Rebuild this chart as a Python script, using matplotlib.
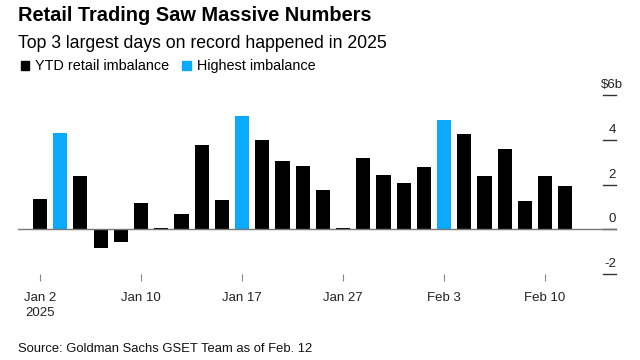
import numpy as np
import matplotlib
matplotlib.use("Agg")
import matplotlib.pyplot as plt
from matplotlib.transforms import blended_transform_factory

plt.rcParams['font.family'] = ['Liberation Sans', 'DejaVu Sans']

dates = ["Jan 2", "Jan 3", "Jan 6", "Jan 7", "Jan 8", "Jan 10", "Jan 13", "Jan 14",
         "Jan 15", "Jan 16", "Jan 17", "Jan 21", "Jan 22", "Jan 23", "Jan 24",
         "Jan 27", "Jan 28", "Jan 29", "Jan 30", "Jan 31", "Feb 3", "Feb 4",
         "Feb 5", "Feb 6", "Feb 7", "Feb 10", "Feb 11", "Feb 12"]
values = [1.35, 4.32, 2.38, -0.83, -0.55, 1.17, 0.05, 0.67,
          3.75, 1.31, 5.04, 3.97, 3.05, 2.84, 1.74,
          0.07, 3.17, 2.41, 2.07, 2.80, 4.90, 4.26,
          2.37, 3.59, 1.25, 2.38, 1.95, np.nan]
highest = ["Jan 3", "Jan 17", "Feb 3"]
tick_dates = ["Jan 2", "Jan 10", "Jan 17", "Jan 27", "Feb 3", "Feb 10"]
tick_labels = ["Jan 2\n2025", "Jan 10", "Jan 17", "Jan 27", "Feb 3", "Feb 10"]
y_ticks = [-2, 0, 2, 4, 6]

BLACK = "#000000"
BLUE = "#0AABFF"

fig = plt.figure(figsize=(6.4, 3.6), dpi=100)
W, H = 640, 360
ax = fig.add_axes([18 / W, 1 - 274 / H, (617 - 18) / W, (274 - 95) / H])

x = np.arange(len(dates))
colors = [BLUE if d in highest else BLACK for d in dates]
ax.bar(x, values, width=0.7, color=colors, zorder=2)
ax.axhline(0, color="#777777", lw=1.0, zorder=3)

ax.set_xlim(-1.09, 28.56)
ax.set_ylim(-2, 6)
for s in ax.spines.values():
    s.set_visible(False)
ax.set_yticks([])
ax.set_xticks([dates.index(d) for d in tick_dates])
ax.set_xticklabels(tick_labels, fontsize=9.5, color="#222222", linespacing=1.35)
ax.tick_params(axis="x", direction="out", length=5, width=0.8, color="#888888", pad=8)

tr = blended_transform_factory(ax.transAxes, ax.transData)
xr = (616 - 18) / (617 - 18)
xl = (603 - 18) / (617 - 18)
for v in y_ticks:
    ax.plot([xl, xr], [v, v], transform=tr, color="#333333", lw=1.0, clip_on=False)
    if v == 6:
        ax.annotate("\\$6b", xy=(xr, v), xycoords=tr, xytext=(-10.8, 5), textcoords="offset points",
                    ha="left", va="baseline", fontsize=9.5, color="#222222")
    else:
        ax.annotate(str(v), xy=(xr, v), xycoords=tr, xytext=(0, 5), textcoords="offset points",
                    ha="right", va="baseline", fontsize=9.5, color="#222222")

fig.text(18 / W, 1 - 21 / H, "Retail Trading Saw Massive Numbers", fontsize=14.4,
         fontweight="bold", color="#000000", va="baseline")
fig.text(18 / W, 1 - 48 / H, "Top 3 largest days on record happened in 2025", fontsize=12.7,
         color="#000000", va="baseline")

# legend
fig.patches.append(plt.Rectangle((21 / W, 1 - 70 / H), 8 / W, 9 / H, transform=fig.transFigure,
                                 color=BLACK, figure=fig))
fig.text(35 / W, 1 - 70 / H, "YTD retail imbalance", fontsize=10.4, va="baseline")
fig.patches.append(plt.Rectangle((182 / W, 1 - 70 / H), 9 / W, 9 / H, transform=fig.transFigure,
                                 color=BLUE, figure=fig))
fig.text(197 / W, 1 - 70 / H, "Highest imbalance", fontsize=10.4, va="baseline")

fig.text(18 / W, 1 - 352 / H, "Source: Goldman Sachs GSET Team as of Feb. 12", fontsize=9.35,
         color="#111111", va="baseline")

fig.savefig("out.png", dpi=100)
